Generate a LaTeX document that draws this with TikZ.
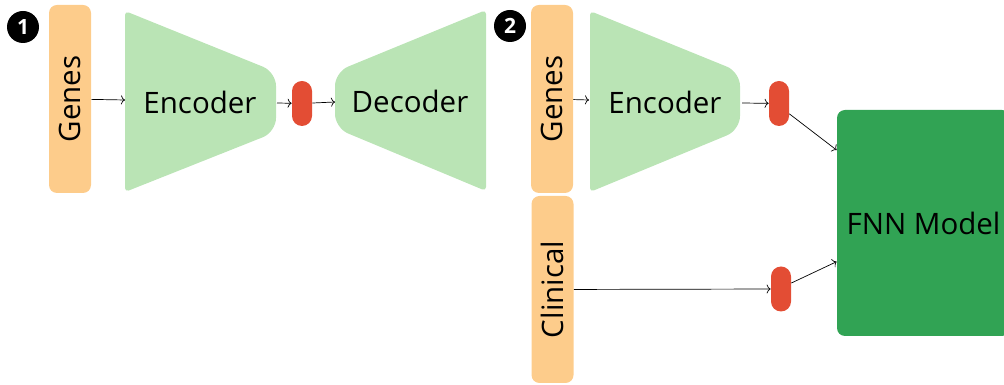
\documentclass[tikz,border=0pt]{standalone}
\usepackage{fontspec}
\setmainfont{Open Sans}
\usetikzlibrary{arrows.meta}

\definecolor{geneorange}{RGB}{253,204,139}
\definecolor{codergreen}{RGB}{186,228,181}
\definecolor{latentred}{RGB}{227,77,52}
\definecolor{fnngreen}{RGB}{49,163,84}

\begin{document}
\begin{tikzpicture}[x=1pt,y=1pt,>={To[length=4pt,width=9pt]},line width=0.7pt,
font=\fontsize{29.5}{35}\selectfont,
input/.style={fill=geneorange,rounded corners=8pt,rotate=90,inner sep=0pt,
  minimum height=42pt},
latent/.style={fill=latentred,rounded corners=10pt,inner sep=0pt,
  minimum width=20pt,minimum height=45pt},
coder/.style={fill=codergreen},
badge/.style={circle,fill=black,text=white,inner sep=0pt,minimum size=32pt,
  font=\fontsize{21}{21}\selectfont\bfseries},
every edge/.style={draw,->}]
\useasboundingbox (0,0) rectangle (1004,385);
\clip (0,0) rectangle (1004,385);
% part 1: autoencoder
\node[badge] (one) at (23,358) {1};
\node[input,minimum width=188pt] (genes1) at (70,286) {Genes};
\fill[coder] (125,283) [rounded corners=4pt] -- (125,374) [rounded corners=14pt]
  -- (276,313) -- (276,253) [rounded corners=4pt] -- (125,193) -- cycle;
\node (enc1) at (200,283) {Encoder};
\coordinate (enc1in) at (125,285);
\coordinate (enc1out) at (277,282);
\node[latent] (z1) at (302,281.5) {};
\fill[coder] (486,283) [rounded corners=4pt] -- (486,375) [rounded corners=14pt]
  -- (335,313) -- (335,257) [rounded corners=4pt] -- (486,194) -- cycle;
\node (dec1) at (410,284) {Decoder};
\coordinate (dec1in) at (335,283);
\draw (genes1) edge (enc1in);
\draw (enc1out) edge (z1);
\draw (z1) edge (dec1in);
% part 2: encoder + clinical into FNN
\node[badge] (two) at (510,359) {2};
\node[input,minimum width=188pt] (genes2) at (552,286) {Genes};
\node[input,minimum width=187pt] (clin) at (552.5,95.5) {Clinical};
\fill[coder] (590,283) [rounded corners=4pt] -- (590,374) [rounded corners=14pt]
  -- (740,313) -- (740,255) [rounded corners=4pt] -- (590,193) -- cycle;
\node (enc2) at (665,283) {Encoder};
\coordinate (enc2in) at (589,285);
\coordinate (enc2out) at (742,282);
\node[latent] (z2) at (779,281.5) {};
\node[latent] (zc) at (781,96) {};
\node[fill=fnngreen,rounded corners=8pt,minimum width=173pt,minimum height=226pt]
  (fnn) at (923.5,162) {FNN Model};
\draw (genes2) edge (enc2in);
\draw (enc2out) edge (z2);
\draw (clin) edge (zc);
\draw (z2.-45) edge (fnn.140);
\draw (zc.30) edge (fnn.204);
\end{tikzpicture}
\end{document}
